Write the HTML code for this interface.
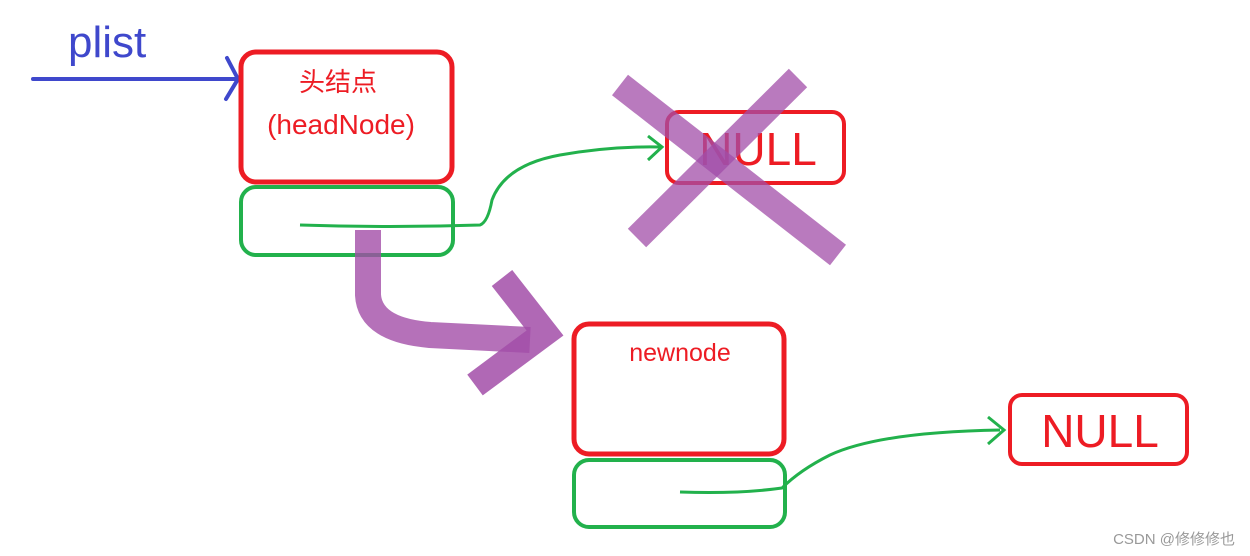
<!DOCTYPE html>
<html><head><meta charset="utf-8"><style>
body{margin:0;background:#fff;width:1250px;height:556px;overflow:hidden}
svg{display:block}
text{font-family:"Liberation Sans","Noto Sans CJK SC",sans-serif}
</style></head><body>
<svg width="1250" height="556" viewBox="0 0 1250 556">
<text x="68" y="57" font-size="44" fill="#3f48cc">plist</text>
<line x1="33" y1="79" x2="238" y2="79" stroke="#3f48cc" stroke-width="4" stroke-linecap="round"/>
<polyline points="227,58 238,79 226,99" fill="none" stroke="#3f48cc" stroke-width="4" stroke-linecap="round"/>
<rect x="241" y="52" width="211" height="130" rx="15" fill="none" stroke="#ed1c24" stroke-width="5"/>
<text x="338" y="91" font-size="26" fill="#ed1c24" text-anchor="middle">头结点</text>
<text x="341" y="134" font-size="28" fill="#ed1c24" text-anchor="middle">(headNode)</text>
<rect x="241" y="187" width="212" height="68" rx="15" fill="none" stroke="#22b14c" stroke-width="4"/>
<rect x="667" y="112" width="177" height="71" rx="12" fill="none" stroke="#ed1c24" stroke-width="4"/>
<text x="758" y="165" font-size="46" fill="#ed1c24" text-anchor="middle">NULL</text>
<line x1="620" y1="85" x2="838" y2="255" stroke="#a24ea8" stroke-opacity="0.75" stroke-width="26"/>
<line x1="798" y1="78" x2="637" y2="238" stroke="#a24ea8" stroke-opacity="0.75" stroke-width="26"/>
<path d="M300 225 Q390 228 480 225 Q488 222 492 200 Q505 165 560 155 Q610 146 660 147" fill="none" stroke="#22b14c" stroke-width="3"/>
<polyline points="648,136 662,147 648,160" fill="none" stroke="#22b14c" stroke-width="3"/>
<path d="M368 230 L368 295 Q370 330 430 335 L530 340" fill="none" stroke="#a24ea8" stroke-opacity="0.8" stroke-width="26"/>
<path d="M502 278 L545 333 L475 385" fill="none" stroke="#a24ea8" stroke-opacity="0.85" stroke-width="26"/>
<rect x="574" y="324" width="210" height="130" rx="15" fill="none" stroke="#ed1c24" stroke-width="5"/>
<text x="680" y="361" font-size="25" fill="#ed1c24" text-anchor="middle">newnode</text>
<rect x="574" y="460" width="211" height="67" rx="15" fill="none" stroke="#22b14c" stroke-width="4"/>
<path d="M680 492 Q740 494 782 488 Q800 470 830 455 Q880 432 1000 430" fill="none" stroke="#22b14c" stroke-width="3"/>
<polyline points="988,417 1004,430 988,444" fill="none" stroke="#22b14c" stroke-width="3"/>
<rect x="1010" y="395" width="177" height="69" rx="12" fill="none" stroke="#ed1c24" stroke-width="4"/>
<text x="1100" y="447" font-size="46" fill="#ed1c24" text-anchor="middle">NULL</text>
<text x="1235" y="544" font-size="15" fill="#999" text-anchor="end">CSDN @修修修也</text>
</svg>
</body></html>
